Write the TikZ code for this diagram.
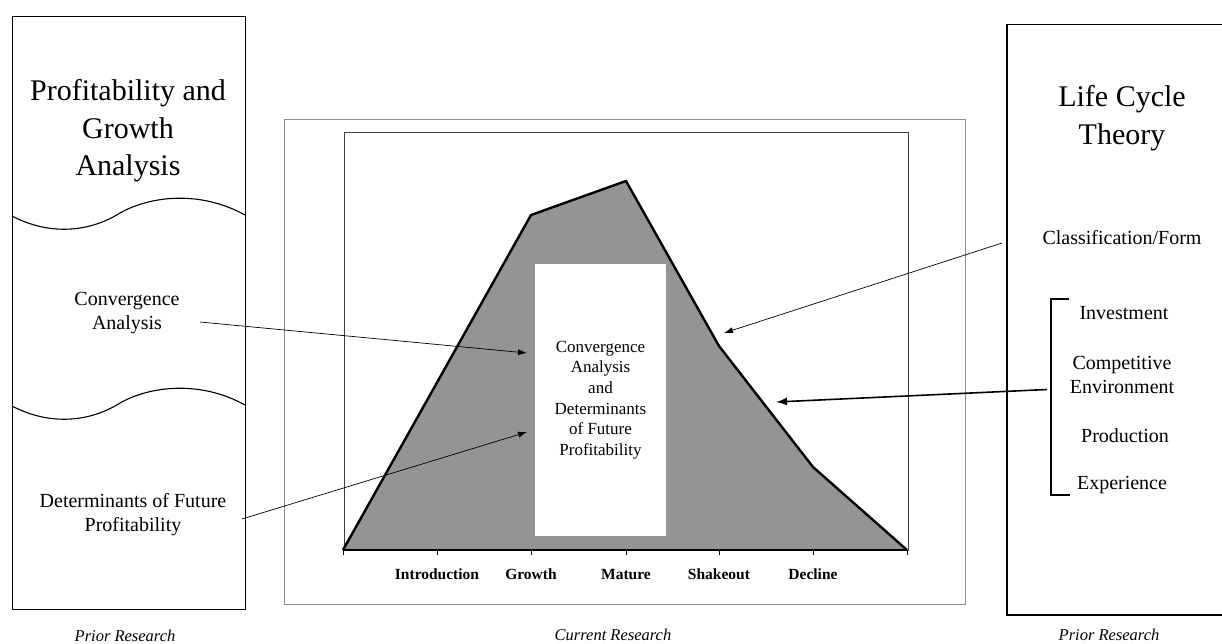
\documentclass[tikz,border=0pt]{standalone}
\usepackage{fontspec}
\setmainfont{Liberation Serif}
\usetikzlibrary{arrows.meta}
\begin{document}
\begin{tikzpicture}[x=1pt,y=-1pt,
  frame/.style={draw=black,line width=1.3pt,inner sep=0pt,anchor=north west},
  bigtxt/.style={font=\fontsize{30}{37.5}\selectfont,align=center,inner sep=0pt},
  midtxt/.style={font=\fontsize{20}{24}\selectfont,align=center,inner sep=0pt},
  captxt/.style={font=\fontsize{16.5}{20}\selectfont\itshape,inner sep=0pt},
  stagetxt/.style={font=\fontsize{15.5}{18}\selectfont\bfseries,inner sep=0pt,
    text height=10.5pt,text depth=3.5pt},
  wave/.style={line width=1.1pt},
  thinarrow/.style={line width=0.7pt,-{Latex[length=9pt,width=6pt]}},
  thickarrow/.style={line width=1.6pt,-{Latex[length=11pt,width=8pt]}},
]
\useasboundingbox (0,0) rectangle (1222,644);

% ---------- left box ----------
\node[frame,minimum width=233pt,minimum height=593pt] (lbox) at (12,16) {};
\draw[wave] (12,216) .. controls (50,236) and (90,232) .. (120,213)
  .. controls (150,196) and (200,190) .. (245,215);
\draw[wave,shift={(0,190)}] (12,216) .. controls (50,236) and (90,232) .. (120,213)
  .. controls (150,196) and (200,190) .. (245,215);
\node[bigtxt] (ltitle) at (128,131) {Profitability and\\Growth\\Analysis};
\node[midtxt] (lconv) at (127,313) {Convergence\\Analysis};
\node[midtxt] (ldet) at (133,515) {Determinants of Future\\Profitability};
\node[captxt] (lcap) at (125,636) {Prior Research};

% ---------- centre ----------
\node[draw=black!45,line width=0.9pt,inner sep=0pt,anchor=north west,
  minimum width=681pt,minimum height=484pt] (outer) at (284,119.5) {};
\node[draw=black!75,line width=1pt,inner sep=0pt,anchor=north west,
  minimum width=564pt,minimum height=417.5pt] (plot) at (343.5,132.5) {};
\fill[black!42] (343,550) -- (531,215) -- (626,181) -- (719,346) -- (813,467) -- (907,550) -- cycle;
\draw[line width=2.4pt,line join=round] (343,550) -- (531,215) -- (626,181) -- (719,346) -- (813,467) -- (907,550);
\draw[line width=2pt] (343,550) -- (907,550);
\foreach \x in {343,437,531,626,719,813,907} \draw[line width=0.9pt] (\x,550) -- (\x,555);
\node[fill=white,inner sep=0pt,minimum width=131pt,minimum height=272pt,align=center,
  font=\fontsize{17}{20.7}\selectfont] (wbox) at (600.5,400)
  {Convergence\\Analysis\\and\\Determinants\\of Future\\Profitability};
\node[stagetxt] (sintro) at (437,576) {Introduction};
\node[stagetxt] (sgrowth) at (531,576) {Growth};
\node[stagetxt] (smature) at (626,576) {Mature};
\node[stagetxt] (sshake) at (719,576) {Shakeout};
\node[stagetxt] (sdecl) at (813,576) {Decline};
\node[captxt] (ccap) at (613,635) {Current Research};

% ---------- right box ----------
\node[frame,line width=1.5pt,minimum width=230pt,minimum height=590pt] (rbox) at (1006,24) {};
\node[bigtxt] (rtitle) at (1122,118) {Life Cycle\\Theory};
\node[midtxt] (rclass) at (1122,238) {Classification/Form};
\node[midtxt] (rinv) at (1124,313) {Investment};
\node[midtxt] (rcomp) at (1122,375) {Competitive\\Environment};
\node[midtxt] (rprod) at (1125,436) {Production};
\node[midtxt] (rexp) at (1122,485) {Experience};
\draw[line width=1.2pt] (1069,299) -- (1051,299) -- (1051,495) -- (1070,495);
\node[captxt] (rcap) at (1109,635) {Prior Research};

% ---------- connectors ----------
\coordinate (convStart) at (200,322);
\coordinate (convTip) at (527,353);
\coordinate (detStart) at (242,519);
\coordinate (detTip) at (527,432);
\coordinate (classStart) at (1002,243);
\coordinate (classTip) at (724,333);
\coordinate (brkMid) at (1047,389.5);
\coordinate (compTip) at (776,402);
\draw[thinarrow] (convStart) -- (convTip);
\draw[thinarrow] (detStart) -- (detTip);
\draw[thinarrow] (classStart) -- (classTip);
\draw[thickarrow] (brkMid) -- (compTip);
\end{tikzpicture}
\end{document}
